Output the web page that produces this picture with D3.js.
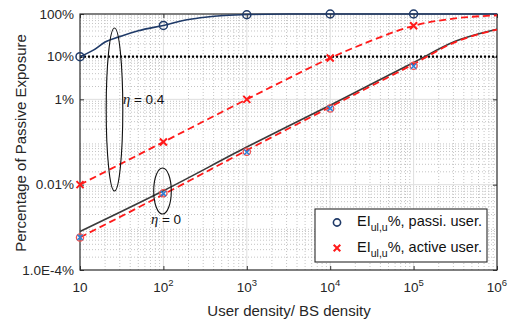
<!DOCTYPE html>
<html>
<head>
<meta charset="utf-8">
<script src="https://cdn.jsdelivr.net/npm/d3@7"></script>
<style>
  html, body { margin: 0; padding: 0; background: #fff; }
  svg { display: block; font-family: "Liberation Sans", Arial, sans-serif; }
</style>
</head>
<body>
<div id="chart"></div>
<script>
// x ticks / y ticks (percent)
const xTicks = [10, 1e2, 1e3, 1e4, 1e5, 1e6];
const yTicks = [1e-4, 1e-2, 1, 10, 100];
const yTickLabels = ['1.0E-4%', '0.01%', '1%', '10%', '100%'];

// simulation points
const simX = [10, 1e2, 1e3, 1e4, 1e5];
const passiveEta04Sim = [10, 54, 96, 100, 100];
const activeEta04Sim = [0.01, 0.1, 1, 9.3, 53];
const passiveEta0Sim = [5.8e-4, 6.2e-3, 0.058, 0.61, 6.0];
const activeEta0Sim = [5.8e-4, 6.3e-3, 0.059, 0.61, 6.1];

// analytic curves
const passiveEta04X = [10, 15, 20, 31.6, 50, 100, 200, 316, 1000, 3162, 1e4, 1e5, 1e6];
const passiveEta04Line = [10, 14.8, 22, 30.6, 40.5, 54, 74, 84, 97, 99.8, 100, 100, 100];
const activeEta04X = [10, 100, 1000, 3162, 1e4, 3.16e4, 1e5, 3.16e5, 1e6];
const activeEta04Line = [0.01, 0.1, 1, 3.1, 9.3, 24, 53, 79, 93];
const eta0X = [10, 100, 1000, 1e4, 1e5, 3.16e5, 1e6];
const passiveEta0Line = [8.0e-4, 7.2e-3, 0.076, 0.73, 7.3, 23, 44];
const activeEta0Line = [5.8e-4, 5.9e-3, 0.064, 0.66, 6.7, 22, 43];

const width = 508, height = 320;
const mLeft = 80, mRight = 497, mTop = 14, mBottom = 270;

const navy = '#1f3a68';
const red = '#ff1a1a';
const lineBlack = '#3a3a3a';

const svg = d3.select('#chart').append('svg')
    .attr('width', width)
    .attr('height', height);

const x = d3.scaleLog().domain([10, 1e6]).range([mLeft, mRight]);
const y = d3.scaleLog().domain([1e-4, 100]).range([mBottom, mTop]);

// Minor grid
const minorX = [];
for (let e = 1; e < 6; e++) for (let m = 2; m <= 9; m++) minorX.push(m * Math.pow(10, e));
const minorY = [];
for (let e = -4; e < 2; e++) for (let m = 2; m <= 9; m++) minorY.push(m * Math.pow(10, e));
const grid = svg.append('g').attr('class', 'grid');
minorX.forEach(v => {
    grid.append('line')
        .attr('x1', x(v)).attr('x2', x(v)).attr('y1', mTop).attr('y2', mBottom)
        .attr('stroke', '#c4c4c4').attr('stroke-width', 1).attr('stroke-dasharray', '1,2');
});
minorY.forEach(v => {
    grid.append('line')
        .attr('x1', mLeft).attr('x2', mRight).attr('y1', y(v)).attr('y2', y(v))
        .attr('stroke', '#c4c4c4').attr('stroke-width', 1).attr('stroke-dasharray', '1,2');
});
// Major grid
xTicks.slice(1, -1).forEach(v => {
    grid.append('line')
        .attr('x1', x(v)).attr('x2', x(v)).attr('y1', mTop).attr('y2', mBottom)
        .attr('stroke', '#dedede').attr('stroke-width', 1);
});
yTicks.slice(1, -1).forEach(v => {
    grid.append('line')
        .attr('x1', mLeft).attr('x2', mRight).attr('y1', y(v)).attr('y2', y(v))
        .attr('stroke', '#dedede').attr('stroke-width', 1);
});

// Axes (ticks inward, box)
const xAxis = d3.axisBottom(x).tickValues(xTicks).tickSize(-4).tickFormat('');
const yAxis = d3.axisLeft(y).tickValues(yTicks).tickSize(-4).tickFormat('');
svg.append('g').attr('transform', `translate(0,${mBottom})`).call(xAxis)
    .call(g => g.select('.domain').remove())
    .selectAll('line').attr('stroke', '#333');
svg.append('g').attr('transform', `translate(0,${mTop})`).call(d3.axisTop(x).tickValues(xTicks).tickSize(-4).tickFormat(''))
    .call(g => g.select('.domain').remove())
    .selectAll('line').attr('stroke', '#333');
svg.append('g').attr('transform', `translate(${mLeft},0)`).call(yAxis)
    .call(g => g.select('.domain').remove())
    .selectAll('line').attr('stroke', '#333');
svg.append('g').attr('transform', `translate(${mRight},0)`).call(d3.axisRight(y).tickValues(yTicks).tickSize(-4).tickFormat(''))
    .call(g => g.select('.domain').remove())
    .selectAll('line').attr('stroke', '#333');

svg.append('rect')
    .attr('x', mLeft).attr('y', mTop)
    .attr('width', mRight - mLeft).attr('height', mBottom - mTop)
    .attr('fill', 'none').attr('stroke', '#2b2b2b').attr('stroke-width', 1.2);

// Tick labels
xTicks.forEach((v, i) => {
    const t = svg.append('text')
        .attr('x', x(v)).attr('y', 292)
        .attr('text-anchor', 'middle')
        .attr('font-size', 13.5).attr('fill', '#262626');
    if (i === 0) {
        t.text('10');
    } else {
        t.append('tspan').text('10');
        t.append('tspan').attr('font-size', 9.5).attr('dy', -6).text(String(Math.round(Math.log10(v))));
    }
});
yTicks.forEach((v, i) => {
    svg.append('text')
        .attr('x', 74).attr('y', y(v) + 4.8)
        .attr('text-anchor', 'end')
        .attr('font-size', 13.5).attr('fill', '#262626')
        .text(yTickLabels[i]);
});

// Axis titles
svg.append('text')
    .attr('x', 289).attr('y', 316)
    .attr('text-anchor', 'middle')
    .attr('font-size', 15).attr('fill', '#262626')
    .text('User density/ BS density');
svg.append('text')
    .attr('transform', 'translate(26,143) rotate(-90)')
    .attr('text-anchor', 'middle')
    .attr('font-size', 15).attr('fill', '#262626')
    .text('Percentage of Passive Exposure');

// 10% reference line
svg.append('line')
    .attr('x1', mLeft).attr('x2', mRight).attr('y1', y(10)).attr('y2', y(10))
    .attr('stroke', '#000').attr('stroke-width', 2.2).attr('stroke-dasharray', '2,2');

const line = d3.line()
    .x(d => x(d[0]))
    .y(d => y(d[1]))
    .curve(d3.curveMonotoneX);

const plot = svg.append('g');
plot.append('path')
    .attr('d', line(d3.zip(eta0X, passiveEta0Line)))
    .attr('fill', 'none').attr('stroke', lineBlack).attr('stroke-width', 1.6);
plot.append('path')
    .attr('d', line(d3.zip(eta0X, activeEta0Line)))
    .attr('fill', 'none').attr('stroke', red).attr('stroke-width', 1.8).attr('stroke-dasharray', '7,4');
plot.append('path')
    .attr('d', line(d3.zip(passiveEta04X, passiveEta04Line)))
    .attr('fill', 'none').attr('stroke', navy).attr('stroke-width', 1.6);
plot.append('path')
    .attr('d', line(d3.zip(activeEta04X, activeEta04Line)))
    .attr('fill', 'none').attr('stroke', red).attr('stroke-width', 1.8).attr('stroke-dasharray', '7,4');

function cross(g, cx, cy, s, color, w) {
    g.append('path')
        .attr('d', `M${cx - s},${cy - s}L${cx + s},${cy + s}M${cx - s},${cy + s}L${cx + s},${cy - s}`)
        .attr('stroke', color).attr('stroke-width', w).attr('fill', 'none');
}

// Markers eta = 0.4
simX.forEach((v, i) => {
    cross(plot, x(v), y(activeEta04Sim[i]), 3.5, red, 2);
    plot.append('circle')
        .attr('cx', x(v)).attr('cy', y(passiveEta04Sim[i])).attr('r', 4)
        .attr('fill', 'none').attr('stroke', navy).attr('stroke-width', 1.5);
});
// Markers eta = 0
simX.forEach((v, i) => {
    plot.append('circle')
        .attr('cx', x(v)).attr('cy', y(activeEta0Sim[i])).attr('r', 3.6)
        .attr('fill', 'none').attr('stroke', '#f05050').attr('stroke-width', 1.3);
    cross(plot, x(v), y(passiveEta0Sim[i]), 2.6, '#2a7fd8', 1.5);
});

// Annotation ellipses
svg.append('ellipse')
    .attr('cx', 114.5).attr('cy', 109.5).attr('rx', 8.3).attr('ry', 81.5)
    .attr('fill', 'none').attr('stroke', '#111').attr('stroke-width', 1.1);
svg.append('ellipse')
    .attr('cx', 162.5).attr('cy', 191).attr('rx', 8.8).attr('ry', 23)
    .attr('fill', 'none').attr('stroke', '#111').attr('stroke-width', 1.1);

function etaLabel(tx, ty, val) {
    const t = svg.append('text').attr('x', tx).attr('y', ty).attr('font-size', 13.5).attr('fill', '#111');
    t.append('tspan').attr('font-family', '"Liberation Serif", serif').attr('font-style', 'italic').attr('font-size', 14.5).text('η');
    t.append('tspan').text(' = ' + val);
}
etaLabel(123, 104, '0.4');
etaLabel(151, 224, '0');

// Legend
const lg = svg.append('g');
lg.append('rect')
    .attr('x', 315).attr('y', 209).attr('width', 172).attr('height', 53)
    .attr('fill', '#fff').attr('stroke', '#2b2b2b').attr('stroke-width', 1.1);
lg.append('circle')
    .attr('cx', 337).attr('cy', 222.5).attr('r', 3.6)
    .attr('fill', 'none').attr('stroke', navy).attr('stroke-width', 1.6);
cross(lg, 337, 248, 3.3, red, 2);
const legendNames = ['%, passi. user.', '%, active user.'];
legendNames.forEach((name, i) => {
    const t = lg.append('text')
        .attr('x', 357).attr('y', 226 + i * 25.5)
        .attr('font-size', 14.5).attr('fill', '#111');
    t.append('tspan').text('EI');
    t.append('tspan').attr('font-size', 10.5).attr('dy', 5).text('ul,u');
    t.append('tspan').attr('dy', -5).text(name);
});
</script>
</body>
</html>
